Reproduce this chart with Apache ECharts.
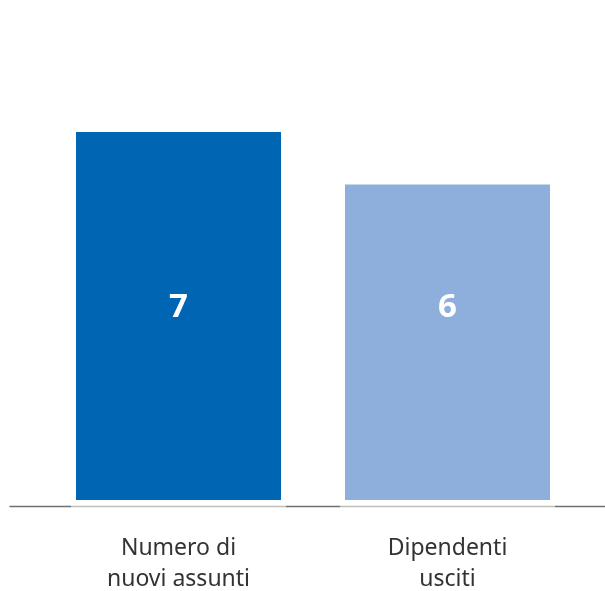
<!DOCTYPE html>
<html>
<head>
<meta charset="utf-8">
<script src="https://cdn.jsdelivr.net/npm/echarts@6/dist/echarts.min.js"></script>
<style>html,body{margin:0;padding:0;background:#fff}#c{width:605px;height:591px}</style>
</head>
<body>
<div id="c"></div>
<script>
var categories = ['Numero di\nnuovi assunti', 'Dipendenti\nusciti'];
var values = [7, 6];
var barColors = ['#0066b3', '#8eaedc'];
var axisOverlay = [-0.15, -0.15];

var chart = echarts.init(document.getElementById('c'), null, {renderer: 'canvas'});
var fontFam = '"Noto Sans", sans-serif';
chart.setOption({
  animation: false,
  grid: [
    {left: 44, right: 23, top: 79.4, bottom: 85, outerBoundsMode: 'none', containLabel: false},
    {left: 10, right: 0, top: 79.4, bottom: 85, outerBoundsMode: 'none', containLabel: false}
  ],
  xAxis: [
    {type: 'category', gridIndex: 0, data: categories,
     axisLine: {show: false}, axisTick: {show: false},
     axisLabel: {margin: 27, fontFamily: fontFam, fontSize: 23, color: '#333', lineHeight: 31}},
    {type: 'category', gridIndex: 0, data: categories, show: false},
    {type: 'value', gridIndex: 1, min: 0, max: 1,
     axisLine: {show: true, onZero: false, lineStyle: {color: '#707070', width: 1.3}},
     axisTick: {show: false}, axisLabel: {show: false}, splitLine: {show: false}}
  ],
  yAxis: [
    {type: 'value', gridIndex: 0, min: -0.114, max: 8, show: false, splitLine: {show: false}},
    {type: 'value', gridIndex: 1, show: false, splitLine: {show: false}}
  ],
  series: [
    {type: 'bar', xAxisIndex: 0, yAxisIndex: 0, barWidth: 205,
     data: values.map(function (v, i) { return {value: v, itemStyle: {color: barColors[i]}}; }),
     label: {show: true, position: 'insideBottom', distance: 175, color: '#fff',
             fontFamily: fontFam, fontWeight: 'bold', fontSize: 33, lineHeight: 34}},
    {type: 'bar', xAxisIndex: 1, yAxisIndex: 0, barWidth: 215, clip: false, silent: true, z: 5,
     data: axisOverlay, itemStyle: {color: 'rgba(255,255,255,0.55)'}}
  ]
});
</script>
</body>
</html>
